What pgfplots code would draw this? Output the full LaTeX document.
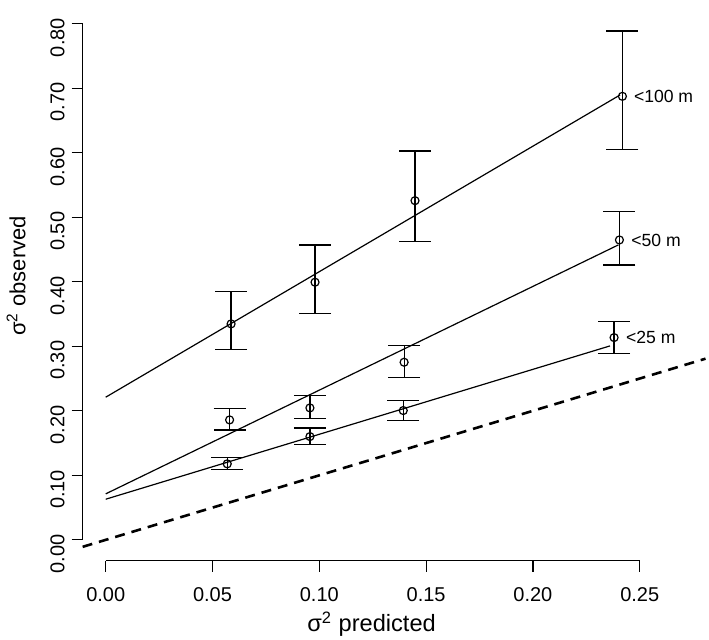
\documentclass[border=0pt]{standalone}
\usepackage{pgfplots}
\pgfplotsset{compat=1.18}
\usepackage{pgfplotstable}
\usepackage{fontspec}
\setmainfont{Liberation Sans}

\pgfplotstableread{
x y ep em
0.0587 0.3347 0.0500 0.0393
0.0980 0.3993 0.0578 0.0486
0.1448 0.5257 0.0770 0.0629
0.2419 0.6874 0.1013 0.0826
}\hundred
\pgfplotstableread{
x y ep em
0.0580 0.1859 0.0175 0.0155
0.0956 0.2045 0.0197 0.0170
0.1397 0.2753 0.0258 0.0232
0.2405 0.4648 0.0445 0.0387
}\fifty
\pgfplotstableread{
x y ep em
0.0569 0.1178 0.0098 0.0088
0.0956 0.1601 0.0134 0.0119
0.1393 0.2004 0.0154 0.0155
0.2380 0.3135 0.0248 0.0242
}\twentyfive

\begin{document}
\begin{tikzpicture}
\begin{axis}[
  scale only axis,
  width=311.6pt, height=278.9pt,
  xmin=-0.0108, xmax=0.2808,
  ymin=-0.032, ymax=0.832,
  clip=false,
  axis x line*=bottom, axis y line*=left,
  axis line style={draw=none},
  tick align=outside,
  major tick length=5.5pt,
  every tick/.style={black, line width=0.6pt},
  xtick={0,0.05,0.10,0.15,0.20,0.25},
  ytick={0,0.1,0.2,0.3,0.4,0.5,0.6,0.7,0.8},
  minor tick num=0,
  /pgf/number format/assume math mode=true,
  /pgf/number format/.cd, fixed, fixed zerofill, precision=2,
  /pgfplots/.cd,
  scaled ticks=false,
  tick label style={font=\fontsize{10}{12}\selectfont},
  xticklabel style={yshift=-4.5pt},
  yticklabel style={rotate=90, anchor=south, xshift=-7pt},
  xlabel={σ\textsuperscript{2} predicted},
  ylabel={σ\textsuperscript{2} observed},
  xlabel style={font=\fontsize{11.8}{13}\selectfont, at={(axis description cs:0.4639,-0.1278)}, anchor=base},
  ylabel style={font=\fontsize{11}{13}\selectfont, at={(axis description cs:-0.0920,0.5105)}, anchor=base},
]
% axis lines spanning the tick range only
\draw[line width=0.6pt] (axis cs:0,-0.032) -- (axis cs:0.25,-0.032);
\draw[line width=0.6pt] (axis cs:-0.0108,0) -- (axis cs:-0.0108,0.8);

% 1:1 line
\addplot[black, line width=1.3pt, dash pattern=on 5pt off 3.5pt] coordinates {(-0.0108,-0.0108) (0.2808,0.2808)};

% regression lines
\addplot[black, line width=0.6pt] coordinates {(0,0.2211) (0.2408,0.6895)};
\addplot[black, line width=0.6pt] coordinates {(0,0.0713) (0.2400,0.4571)};
\addplot[black, line width=0.6pt] coordinates {(0,0.0630) (0.2361,0.3006)};

% points with error bars
\pgfplotsset{errstyle/.style={only marks, black, mark=o, mark size=2pt,
   mark options={line width=0.6pt},
   error bars/.cd, y dir=both, y explicit, error mark=|,
   error mark options={black, mark size=8pt, line width=0.6pt},
   error bar style={black, line width=0.6pt}}}
\addplot[errstyle] table[x=x, y=y, y error plus=ep, y error minus=em] {\hundred};
\addplot[errstyle] table[x=x, y=y, y error plus=ep, y error minus=em] {\fifty};
\addplot[errstyle] table[x=x, y=y, y error plus=ep, y error minus=em] {\twentyfive};

\node[anchor=west, inner sep=0pt, xshift=5.6pt, font=\fontsize{8.8}{10}\selectfont] at (axis cs:0.2419,0.6874) {<100 m};
\node[anchor=west, inner sep=0pt, xshift=5.8pt, font=\fontsize{8.8}{10}\selectfont] at (axis cs:0.2405,0.4648) {<50 m};
\node[anchor=west, inner sep=0pt, xshift=5.8pt, font=\fontsize{8.8}{10}\selectfont] at (axis cs:0.2380,0.3135) {<25 m};

\coordinate (bbll) at (axis cs:-0.04949,-0.15494);
\coordinate (bbur) at (axis cs:0.28244,0.83669);
\end{axis}
\pgfresetboundingbox
\path[use as bounding box] (bbll) rectangle (bbur);
\end{tikzpicture}
\end{document}
